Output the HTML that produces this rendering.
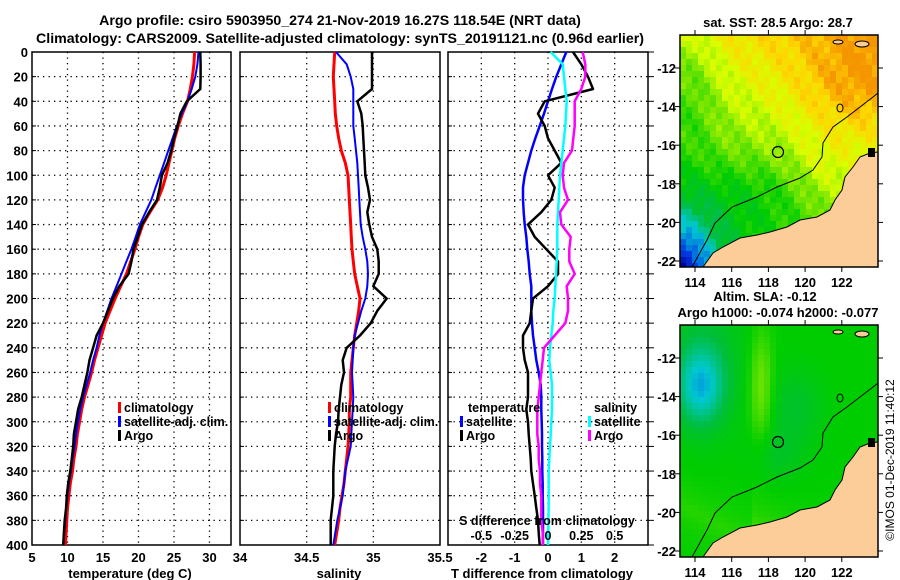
<!DOCTYPE html>
<html><head><meta charset="utf-8"><style>
html,body{margin:0;padding:0;background:#fff;}
svg{display:block;font-family:"Liberation Sans",sans-serif;font-weight:bold;}
</style></head><body>
<svg id="c" width="900" height="580" viewBox="0 0 900 580" xmlns="http://www.w3.org/2000/svg"></svg>
<script>
const depths=[0,10,20,30,40,50,60,70,80,90,100,110,120,130,140,150,160,170,180,190,200,210,220,230,240,250,260,270,280,290,300,310,320,330,340,350,360,370,380,390,400];
const climT=[27.9,27.8,27.6,27.3,26.9,26.2,25.6,25.1,24.7,24.3,23.9,23.4,22.7,21.6,20.6,20.0,19.5,18.9,18.3,17.5,16.7,16.0,15.3,14.8,14.3,13.8,13.4,12.9,12.4,12.0,11.7,11.4,11.2,10.9,10.7,10.4,10.2,10.0,9.9,9.8,9.7];
const satT=[28.45,28.3,28.0,27.5,26.9,26.1,25.4,24.8,24.2,23.6,23.0,22.4,21.8,21.0,20.2,19.6,19.0,18.3,17.6,16.9,16.2,15.6,15.0,14.5,14.1,13.6,13.2,12.7,12.2,11.8,11.5,11.2,11.0,10.7,10.5,10.2,10.0,9.8,9.7,9.55,9.45];
const argoT=[28.7,28.75,28.75,28.7,26.8,25.9,25.5,25.0,24.6,24.1,23.3,23.0,22.6,21.5,20.5,19.9,19.3,19.0,18.6,17.3,16.4,15.7,15.0,14.1,13.6,13.1,12.8,12.4,12.0,11.5,11.2,10.9,10.8,10.6,10.4,10.1,9.9,9.8,9.6,9.5,9.4];
const climS=[34.71,34.705,34.70,34.705,34.71,34.715,34.725,34.74,34.76,34.79,34.81,34.815,34.82,34.825,34.83,34.835,34.84,34.85,34.86,34.88,34.9,34.89,34.875,34.86,34.85,34.84,34.83,34.83,34.83,34.82,34.82,34.815,34.81,34.8,34.79,34.78,34.765,34.75,34.74,34.725,34.71];
const satS=[34.72,34.8,34.83,34.85,34.85,34.85,34.85,34.86,34.87,34.88,34.885,34.89,34.895,34.9,34.905,34.92,34.94,34.955,34.96,34.955,34.94,34.91,34.885,34.86,34.85,34.845,34.84,34.845,34.85,34.845,34.84,34.835,34.83,34.81,34.79,34.78,34.77,34.75,34.73,34.715,34.70];
const argoS=[34.99,34.99,34.99,34.99,34.88,34.91,34.92,34.925,34.93,34.935,34.94,34.96,34.975,34.955,34.97,34.99,35.03,35.04,35.04,35.0,35.1,35.03,34.98,34.9,34.8,34.77,34.78,34.76,34.75,34.74,34.735,34.72,34.71,34.705,34.70,34.70,34.70,34.69,34.68,34.68,34.68];
const satTdiff=[0.55,0.4,0.25,0.12,0,-0.12,-0.25,-0.38,-0.5,-0.6,-0.7,-0.75,-0.75,-0.73,-0.7,-0.65,-0.62,-0.58,-0.55,-0.5,-0.5,-0.5,-0.48,-0.45,-0.4,-0.35,-0.28,-0.22,-0.2,-0.2,-0.19,-0.18,-0.18,-0.17,-0.17,-0.16,-0.16,-0.15,-0.15,-0.15,-0.15];
const argoTdiff=[0.75,1.0,1.2,1.35,-0.1,-0.3,-0.1,0,0.2,0.4,0,0.2,0.1,-0.2,-0.6,-0.4,-0.05,0.3,0.3,0,-0.45,-0.5,-0.55,-0.75,-0.75,-0.7,-0.6,-0.6,-0.6,-0.65,-0.6,-0.58,-0.55,-0.52,-0.5,-0.45,-0.4,-0.35,-0.3,-0.28,-0.25];
const satSdiff=[0.02,0.11,0.12,0.13,0.14,0.135,0.13,0.12,0.11,0.1,0.09,0.085,0.08,0.075,0.07,0.07,0.07,0.065,0.06,0.055,0.05,0.04,0.035,0.025,0.015,0.01,0.02,0.03,0.03,0.03,0.025,0.02,0.015,0.01,0.005,0.005,0.005,0.005,0.003,0.002,0];
const argoSdiff=[0.26,0.28,0.28,0.25,0.2,0.2,0.2,0.19,0.18,0.12,0.11,0.12,0.15,0.09,0.1,0.17,0.16,0.16,0.2,0.14,0.15,0.15,0.13,0.05,-0.03,-0.04,-0.05,-0.06,-0.07,-0.08,-0.08,-0.08,-0.07,-0.07,-0.06,-0.06,-0.05,-0.05,-0.05,-0.04,-0.04];
const depthTicks=[0,20,40,60,80,100,120,140,160,180,200,220,240,260,280,300,320,340,360,380,400];
const tTicks=[5,10,15,20,25,30];
const sTicks=[34,34.5,35,35.5];
const dTTicks=[-2,-1,0,1,2];
const dTLabels=["-2","-1","0","1","2"];
const dSTicks=[-0.5,-0.25,0,0.25,0.5];
const dSLabels=["-0.5","-0.25","0","0.25","0.5"];
const lonTicks=[114,116,118,120,122];
const latTicks=[-12,-14,-16,-18,-20,-22];

const NS="http://www.w3.org/2000/svg";
const svg=document.getElementById('c');
function mk(tag,attrs,parent){const e=document.createElementNS(NS,tag);for(const k in attrs)e.setAttribute(k,attrs[k]);(parent||svg).appendChild(e);return e;}
function txt(s,x,y,anchor,size,parent){const t=mk('text',{x:x,y:y,'text-anchor':anchor||'middle','font-size':size||13},parent);t.textContent=s;return t;}

const TOP=52,BOT=545;
const yD=d=>TOP+(d/400)*(BOT-TOP);
const P1={x0:32,x1:231,lo:5,hi:33.03};
const P2={x0:240,x1:440,lo:34,hi:35.5};
const P3={x0:448,x1:648,lo:-3,hi:3};
const xS=(p,v)=>p.x0+(v-p.lo)/(p.hi-p.lo)*(p.x1-p.x0);
const xDS=v=>xS(P3,v*4);

function panel(p,name,xt,xl){
  const g=mk('g',{});
  
  
  depthTicks.forEach(d=>{if(d>0&&d<400){const l=mk('line',{x1:p.x0,x2:p.x1,y1:yD(d),y2:yD(d),stroke:'#000','stroke-width':1.3,'stroke-dasharray':'1.3 4.2'},g);}
    const tk=mk('line',{x1:p.x0,x2:p.x0+4,y1:yD(d),y2:yD(d),stroke:'#000'},g);});
  xt.forEach(v=>{const x=xS(p,v);if(x>p.x0+2&&x<p.x1-2){const l=mk('line',{x1:x,x2:x,y1:TOP,y2:BOT,stroke:'#000','stroke-width':1.3,'stroke-dasharray':'1.3 4.2'},g);}});
  if(xl){xt.forEach((v,i)=>{const t=txt(xl[i],xS(p,v),562,'middle',13,g);});}
  const r=mk('rect',{x:p.x0,y:TOP,width:p.x1-p.x0,height:BOT-TOP,fill:'none',stroke:'#000','stroke-width':1.5},g);
  
  return g;
}
function series(vals,xf,color,w,name){
  const pts=vals.map((v,i)=>xf(v).toFixed(1)+','+yD(depths[i]).toFixed(1)).join(' ');
  const l=mk('polyline',{points:pts,fill:'none',stroke:color,'stroke-width':w,'stroke-linejoin':'round'});
  
  
}
function legend(x,y,color,label){
  const g=mk('g',{});
  
  
  mk('rect',{x:x,y:y-10,width:3,height:11,fill:color},g);
  txt(label,x+6,y,'start',12.5,g);
}

const t1=txt('Argo profile: csiro 5903950_274 21-Nov-2019 16.27S 118.54E (NRT data)',340,25,'middle',14.2);

const t2=txt('Climatology: CARS2009. Satellite-adjusted climatology: synTS_20191121.nc (0.96d earlier)',340,43,'middle',14.2);


depthTicks.forEach(d=>{const t=txt(String(d),28,yD(d)+5,'end',13);});

panel(P1,'temperature-panel',tTicks,tTicks.map(String));
series(climT,v=>xS(P1,v),'#f00',3,'climatology-temperature-line');
series(satT,v=>xS(P1,v),'#00f',2,'satellite-temperature-line');
series(argoT,v=>xS(P1,v),'#000',2.5,'argo-temperature-line');
legend(118,412,'#f00','climatology');legend(118,426,'#00f','satellite-adj. clim.');legend(118,440,'#000','Argo');
let a=txt('temperature (deg C)',130,578,'middle',13);

panel(P2,'salinity-panel',sTicks,sTicks.map(String));
series(climS,v=>xS(P2,v),'#f00',3,'climatology-salinity-line');
series(satS,v=>xS(P2,v),'#00f',2,'satellite-salinity-line');
series(argoS,v=>xS(P2,v),'#000',2.5,'argo-salinity-line');
legend(328,412,'#f00','climatology');legend(328,426,'#00f','satellite-adj. clim.');legend(328,440,'#000','Argo');
a=txt('salinity',339,578,'middle',13);

panel(P3,'difference-panel',dTTicks,dTLabels);
depthTicks.forEach(d=>{const tk=mk('line',{x1:P3.x1,x2:P3.x1+6,y1:yD(d),y2:yD(d),stroke:'#000'});});
series(satTdiff,v=>xS(P3,v),'#00f',2.5,'satellite-temperature-difference-line');
series(argoTdiff,v=>xS(P3,v),'#000',2.5,'argo-temperature-difference-line');
series(satSdiff,xDS,'#0ff',2.5,'satellite-salinity-difference-line');
series(argoSdiff,xDS,'#f0f',2.5,'argo-salinity-difference-line');
a=txt('temperature',468,412,'start',12.5);
legend(460,426,'#00f','satellite');legend(460,440,'#000','Argo');
a=txt('salinity',594,412,'start',12.5);
legend(588,426,'#0ff','satellite');legend(588,440,'#f0f','Argo');
a=txt('S difference from climatology',547,525,'middle',12.5);
dSTicks.forEach((v,i)=>{const t=txt(dSLabels[i],xDS(v),540,'middle',12.5);});
a=txt('T difference from climatology',542,578,'middle',13);

const MX0=680,MX1=878;
const lonX=l=>695+(l-114)*18.35;
const latY=(l,off)=>68+off+(-12-l)*19.3;
function cmap(v){
  const st=[[0,[0,0,150]],[0.15,[0,60,230]],[0.3,[0,200,210]],[0.45,[0,190,60]],[0.55,[0,205,0]],[0.68,[120,230,0]],[0.78,[215,255,0]],[0.9,[255,215,0]],[1,[245,150,0]]];
  v=Math.max(0,Math.min(1,v));
  for(let i=1;i<st.length;i++){if(v<=st[i][0]){const f=(v-st[i-1][0])/(st[i][0]-st[i-1][0]);const c=st[i-1][1].map((q,k)=>Math.round(q+f*(st[i][1][k]-q)));return 'rgb('+c.join(',')+')';}}
  return 'rgb(245,150,0)';
}
const g2=(x,y,cx,cy,sx,sy)=>Math.exp(-((x-cx)**2/(2*sx*sx)+(y-cy)**2/(2*sy*sy)));
function sstField(lon,lat){
  let v=0.72+0.015*(lon-118)+0.03*(lat+16);
  v+=0.1*g2(lon,lat,122.5,-13,2,1.8);
  v-=0.1*g2(lon,lat,113.8,-13,1,2.5);
  v-=0.08*g2(lon,lat,117,-18.5,2.5,1.3);
  v+=0.06*g2(lon,lat,121,-17.5,1.2,1.5);
  v-=0.42*g2(lon,lat,113,-22.5,1.5,2.0);
  v+=0.03*Math.sin(lon*3.1+lat*2.3)+0.025*Math.sin(lon*7.3-lat*5.1);
  return v;
}
function slaField(lon,lat){
  let v=0.55;
  v-=0.22*g2(lon,lat,114.3,-13.5,0.9,1.4);
  v-=0.08*g2(lon,lat,114.5,-12,1.5,2.5);
  v+=0.13*g2(lon,lat,117.6,-13.5,0.45,2.0);
  v-=0.07*g2(lon,lat,119.5,-14.5,1,1.3);
  v-=0.06*g2(lon,lat,118.5,-17,1,1);
  const coast=0.5*(lon-114)+(lat+21.5);
  v+=0.14*Math.exp(-Math.abs(coast-1.5)/1.2)*(lon>117?1:0.3);
  return v;
}
const landPts=[[703,267],[713,253],[723,247],[740,238],[757,235],[770,232],[787,227],[800,220],[817,217],[830,210],[835,200],[842,190],[845,177],[853,167],[860,157],[870,153],[878,152],[878,267]];
const contourPts=[[692,267],[707,240],[715,223],[732,207],[757,197],[777,187],[800,178],[813,170],[822,157],[823,143],[833,127],[847,117],[860,107],[873,97],[878,93]];
function drawMap(off,field,name){
  const y0=35+off,y1=267+off;
  const g=mk('g',{});
  
  
  const cs=6;
  for(let x=MX0;x<MX1;x+=cs){for(let y=y0;y<y1;y+=cs){
    const lon=114+(x+cs/2-695)/18.35, lat=-12-(y+cs/2-off-68)/19.3;
    mk('rect',{x:x,y:y,width:Math.min(cs,MX1-x)+0.3,height:Math.min(cs,y1-y)+0.3,fill:cmap(field(lon,lat))},g);
  }}
  const land=mk('polygon',{points:landPts.map(p=>p[0]+','+(p[1]+off)).join(' '),fill:'#fccc99',stroke:'#000','stroke-width':1},g);
  
  const ct=mk('polyline',{points:contourPts.map(p=>p[0]+','+(p[1]+off)).join(' '),fill:'none',stroke:'#000','stroke-width':1},g);
  
  mk('ellipse',{cx:840,cy:108+off,rx:3,ry:4,fill:'none',stroke:'#000'},g);
  mk('ellipse',{cx:838,cy:42+off,rx:5,ry:2,fill:'#fccc99',stroke:'#000'},g);
  mk('ellipse',{cx:862,cy:44+off,rx:7,ry:3,fill:'#fccc99',stroke:'#000'},g);
  mk('rect',{x:868,y:148+off,width:7,height:9,fill:'#000'},g);
  const c=mk('circle',{cx:778,cy:152+off,r:5.5,fill:'none',stroke:'#000','stroke-width':1.2},g);
  
  mk('rect',{x:MX0,y:y0,width:MX1-MX0,height:y1-y0,fill:'none',stroke:'#000','stroke-width':1.5},g);
  lonTicks.forEach(l=>{const x=lonX(l);mk('line',{x1:x,x2:x,y1:y1,y2:y1+5,stroke:'#000'},g);mk('line',{x1:x,x2:x,y1:y0,y2:y0-5,stroke:'#000'},g);
    const t=txt(String(l),x,y1+20,'middle',13,g);});
  latTicks.forEach(l=>{const y=latY(l,off);mk('line',{x1:MX0-5,x2:MX0,y1:y,y2:y,stroke:'#000'},g);mk('line',{x1:MX1,x2:MX1+5,y1:y,y2:y,stroke:'#000'},g);
    const t=txt(String(l),676,y+5,'end',13,g);});
}
drawMap(0,sstField,'sst-map');
drawMap(290,slaField,'sla-map');
a=txt('sat. SST: 28.5 Argo: 28.7',778,27,'middle',13);
a=txt('Altim. SLA: -0.12',765,301,'middle',13);
a=txt('Argo h1000: -0.074 h2000: -0.077',778,317,'middle',13);
a=mk('text',{x:0,y:0,'text-anchor':'middle','font-size':12,'font-weight':'normal',transform:'translate(894,460) rotate(-90)'});
a.textContent='©IMOS 01-Dec-2019 11:40:12';

</script>
</body></html>
